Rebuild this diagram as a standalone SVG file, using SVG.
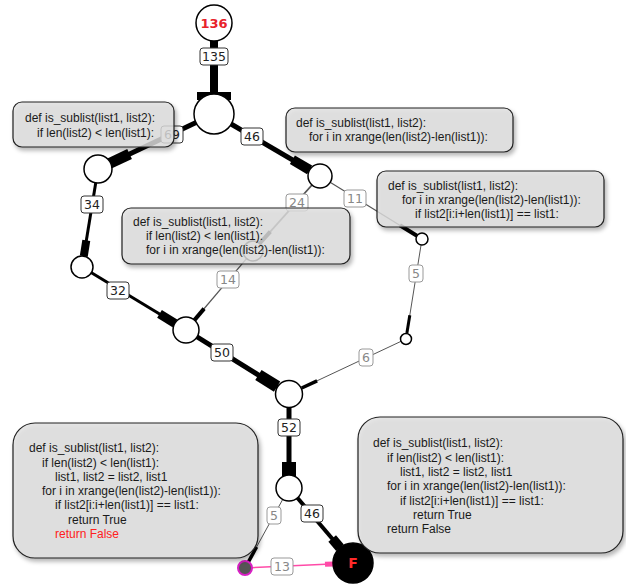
<svg xmlns="http://www.w3.org/2000/svg" width="626" height="585" viewBox="0 0 626 585">
<style>
.e{stroke:#000;fill:none;stroke-linecap:butt}
.t{stroke:#555;fill:none}
.n{fill:#fff;stroke:#000;stroke-width:1.5}
.lb rect{fill:#fff;stroke:#333;stroke-width:1}
.lb text{font-family:"DejaVu Sans",sans-serif;font-size:12.5px;fill:#222;text-anchor:middle}
.lg rect{fill:#fff;stroke:#999;stroke-width:1}
.lg text{font-family:"DejaVu Sans",sans-serif;font-size:12.5px;fill:#888;text-anchor:middle}
.bx rect{fill:#dedede;fill-opacity:0.8;stroke:#222;stroke-width:1.2}
.bx text{font-family:"Liberation Sans",Arial,sans-serif;font-size:12px;fill:#1a1a1a}
</style>
<defs>
<filter id="sh" x="-10%" y="-10%" width="130%" height="140%">
<feDropShadow dx="2" dy="3" stdDeviation="2" flood-color="#000" flood-opacity="0.35"/>
</filter>
</defs>
<g id="connectors">
<line class="e" x1="214" y1="40" x2="214" y2="96" stroke-width="8"/>
<line class="e" x1="214" y1="92" x2="214" y2="100" stroke-width="34"/>
<line class="e" x1="214" y1="114" x2="98" y2="169" stroke-width="5"/>
<line class="e" x1="109.7" y1="163.4" x2="129.6" y2="154" stroke-width="11"/>
<line class="e" x1="214" y1="114" x2="320" y2="176" stroke-width="5"/>
<line class="e" x1="309.6" y1="169.9" x2="292.4" y2="159.8" stroke-width="10"/>
<line class="e" x1="98" y1="169" x2="82" y2="267" stroke-width="3"/>
<line class="e" x1="83.8" y1="256.1" x2="86.3" y2="240.4" stroke-width="8"/>
<line class="e" x1="82" y1="267" x2="186" y2="330" stroke-width="3"/>
<line class="e" x1="174.9" y1="323.3" x2="159.5" y2="313.9" stroke-width="9"/>
<line class="t" x1="320" y1="176" x2="253" y2="251" stroke-width="1.8" stroke="#777"/>
<line class="e" x1="259.7" y1="243.5" x2="270.3" y2="231.6" stroke-width="4" stroke="#555"/>
<line class="t" x1="253" y1="251" x2="186" y2="330" stroke-width="1.2" stroke="#222"/>
<line class="e" x1="194.4" y1="320.1" x2="204.1" y2="308.6" stroke-width="4"/>
<line class="t" x1="320" y1="176" x2="422" y2="239" stroke-width="1.2"/>
<line class="e" x1="416.9" y1="235.8" x2="399.9" y2="225.3" stroke-width="4"/>
<line class="t" x1="422" y1="239" x2="406" y2="339" stroke-width="1"/>
<line class="e" x1="406.9" y1="333.1" x2="409.8" y2="315.3" stroke-width="3"/>
<line class="t" x1="406" y1="339" x2="289" y2="394" stroke-width="1"/>
<line class="e" x1="301.7" y1="388" x2="317.1" y2="380.8" stroke-width="3.5"/>
<line class="e" x1="186" y1="330" x2="289" y2="394" stroke-width="5"/>
<line class="e" x1="277.1" y1="386.6" x2="258.4" y2="375" stroke-width="12"/>
<line class="e" x1="289" y1="394" x2="289" y2="488" stroke-width="5"/>
<line class="e" x1="289" y1="476" x2="289" y2="462" stroke-width="14"/>
<line class="e" x1="289" y1="488" x2="353" y2="563" stroke-width="4"/>
<line class="e" x1="340" y1="547.8" x2="332.2" y2="538.6" stroke-width="10"/>
<line class="t" x1="289" y1="488" x2="245" y2="568" stroke-width="1"/>
<line class="e" x1="248.4" y1="561.9" x2="256.6" y2="547" stroke-width="3.5"/>
<line x1="245" y1="568" x2="353" y2="563" stroke="#ff4aa8" stroke-width="1.5"/>
<line x1="334" y1="563.9" x2="325" y2="564.3" stroke="#ff4aa8" stroke-width="5"/>
<g class="lb"><rect x="200" y="48" width="28" height="17" rx="3"/><text x="214" y="61">135</text></g>
<g class="lb"><rect x="161" y="126" width="22" height="17" rx="3"/><text x="172" y="139">69</text></g>
<g class="lb"><rect x="241" y="128" width="22" height="17" rx="3"/><text x="252" y="141">46</text></g>
<g class="lb"><rect x="81" y="196" width="22" height="17" rx="3"/><text x="92" y="209">34</text></g>
<g class="lb"><rect x="107" y="282" width="22" height="17" rx="3"/><text x="118" y="295">32</text></g>
<g class="lg"><rect x="286" y="194" width="22" height="17" rx="3"/><text x="297" y="207">24</text></g>
<g class="lg"><rect x="344" y="190" width="22" height="17" rx="3"/><text x="355" y="203">11</text></g>
<g class="lg"><rect x="217" y="271" width="22" height="17" rx="3"/><text x="228" y="284">14</text></g>
<g class="lg"><rect x="409" y="265" width="14" height="17" rx="3"/><text x="416" y="278">5</text></g>
<g class="lg"><rect x="359" y="349" width="14" height="17" rx="3"/><text x="366" y="362">6</text></g>
<g class="lb"><rect x="211" y="344" width="22" height="17" rx="3"/><text x="222" y="357">50</text></g>
<g class="lb"><rect x="278" y="419" width="22" height="17" rx="3"/><text x="289" y="432">52</text></g>
<g class="lb"><rect x="301" y="505" width="22" height="17" rx="3"/><text x="312" y="518">46</text></g>
<g class="lg"><rect x="267" y="507" width="14" height="17" rx="3"/><text x="274" y="520">5</text></g>
<g class="lg"><rect x="271" y="558" width="22" height="17" rx="3"/><text x="282" y="571">13</text></g>
</g>
<g id="n136"><circle class="n" cx="214" cy="23" r="18"/><text x="214" y="28" text-anchor="middle" font-family="DejaVu Sans,sans-serif" font-weight="bold" font-size="13" fill="#e8222a">136</text></g>
<g id="nA"><circle class="n" cx="214" cy="114" r="20"/></g>
<g id="nB"><circle class="n" cx="98" cy="169" r="14"/></g>
<g id="nC"><circle class="n" cx="320" cy="176" r="12"/></g>
<g id="nD"><circle class="n" cx="422" cy="239" r="6"/></g>
<g id="nE"><circle class="n" cx="82" cy="267" r="11"/></g>
<g id="nL"><circle class="n" cx="253" cy="251" r="10"/></g>
<g id="nG"><circle class="n" cx="186" cy="330" r="13"/></g>
<g id="nH"><circle class="n" cx="406" cy="339" r="5.5"/></g>
<g id="nI"><circle class="n" cx="289" cy="394" r="13.5"/></g>
<g id="nJ"><circle class="n" cx="289" cy="488" r="13"/></g>
<g id="nK"><circle cx="245" cy="568" r="7" fill="#555" stroke="#d81fc4" stroke-width="2"/></g>
<g id="nF"><circle cx="353" cy="563" r="20" fill="#000" stroke="#000" stroke-width="1.5"/><text x="353" y="568" text-anchor="middle" font-family="DejaVu Sans,sans-serif" font-weight="bold" font-size="14" fill="#ff2a2a">F</text></g>
<g id="box1" class="bx"><rect x="13" y="102" width="161" height="45" rx="9" filter="url(#sh)"/><text x="25" y="122">def is_sublist(list1, list2):</text><text x="37" y="137">if len(list2) &lt; len(list1):</text></g>
<g id="box2" class="bx"><rect x="286" y="108" width="227" height="44" rx="9" filter="url(#sh)"/><text x="296" y="127">def is_sublist(list1, list2):</text><text x="309" y="141">for i in xrange(len(list2)-len(list1)):</text></g>
<g id="box3" class="bx"><rect x="377" y="171" width="227" height="56" rx="9" filter="url(#sh)"/><text x="388" y="190">def is_sublist(list1, list2):</text><text x="402" y="204">for i in xrange(len(list2)-len(list1)):</text><text x="415" y="218">if list2[i:i+len(list1)] == list1:</text></g>
<g id="box4" class="bx"><rect x="122" y="208" width="228" height="56" rx="9" filter="url(#sh)"/><text x="133" y="226">def is_sublist(list1, list2):</text><text x="146" y="240">if len(list2) &lt; len(list1):</text><text x="146" y="254">for i in xrange(len(list2)-len(list1)):</text></g>
<g id="box5" class="bx"><rect x="13" y="423" width="245" height="135" rx="22" filter="url(#sh)"/><text x="29" y="452">def is_sublist(list1, list2):</text><text x="42" y="467">if len(list2) &lt; len(list1):</text><text x="55" y="481">list1, list2 = list2, list1</text><text x="42" y="495">for i in xrange(len(list2)-len(list1)):</text><text x="55" y="509">if list2[i:i+len(list1)] == list1:</text><text x="68" y="524">return True</text><text x="55" y="538" style="fill:#ff2020">return False</text></g>
<g id="box6" class="bx"><rect x="358" y="417" width="265" height="136" rx="22" filter="url(#sh)"/><text x="373" y="447">def is_sublist(list1, list2):</text><text x="387" y="462">if len(list2) &lt; len(list1):</text><text x="400" y="476">list1, list2 = list2, list1</text><text x="387" y="490">for i in xrange(len(list2)-len(list1)):</text><text x="400" y="505">if list2[i:i+len(list1)] == list1:</text><text x="413" y="519">return True</text><text x="387" y="533">return False</text></g>
</svg>
